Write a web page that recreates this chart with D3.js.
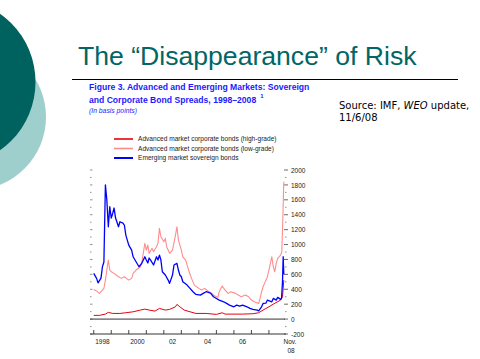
<!DOCTYPE html>
<html><head><meta charset="utf-8">
<script src="https://cdn.jsdelivr.net/npm/d3@7"></script>
<style>body{margin:0;background:#fff;}svg{display:block;}</style>
</head><body>
<script>
// ---- data ----
const seriesNames = ["Advanced market corporate bonds (high-grade)","Advanced market corporate bonds (low-grade)","Emerging market sovereign bonds"];
const seriesColors = ["#e8000b","#ff8c8c","#0000ff"];
const highGrade = [["1998-01",50],["1998-05",50],["1998-09",67],["1998-11",90],["1999-02",76],["1999-07",76],["1999-11",85],["2000-04",98],["2000-09",121],["2000-12",134],["2001-03",121],["2001-07",107],["2001-10",143],["2002-02",121],["2002-05",130],["2002-09",165],["2002-10",197],["2002-12",165],["2003-03",121],["2003-07",98],["2003-11",76],["2004-06",76],["2005-01",63],["2005-05",85],["2005-07",67],["2006-01",67],["2006-07",67],["2007-02",72],["2007-06",85],["2007-09",121],["2008-01",165],["2008-04",201],["2008-09",255],["2008-10-10",300],["2008-11-06",523]];
const lowGrade = [["1998-01",398],["1998-03",376],["1998-05",345],["1998-06",367],["1998-08",412],["1998-09",523],["1998-10",658],["1998-11",792],["1998-12",658],["1999-01",635],["1999-03",613],["1999-06",568],["1999-08",546],["1999-10",568],["2000-01",523],["2000-03",546],["2000-04",613],["2000-06",658],["2000-09",702],["2000-10",769],["2000-12",1016],["2001-01",926],["2001-02",993],["2001-03",882],["2001-05",949],["2001-06",903],["2001-08",970],["2001-09",1016],["2001-10",1217],["2001-11",1105],["2002-01",1038],["2002-02",1083],["2002-03",970],["2002-05",882],["2002-07",926],["2002-09",1127],["2002-10",1239],["2002-11",1060],["2003-01",926],["2003-02",836],["2003-04",792],["2003-06",658],["2003-08",546],["2003-10",456],["2004-01",412],["2004-03",389],["2004-05",412],["2004-07",380],["2004-10",345],["2004-12",309],["2005-02",291],["2005-03",367],["2005-05",443],["2005-07",389],["2005-09",345],["2005-11",367],["2006-02",345],["2006-04",322],["2006-06",300],["2006-09",322],["2006-11",300],["2007-01",255],["2007-03",232],["2007-06",210],["2007-07",277],["2007-08",367],["2007-09",434],["2007-10",479],["2007-12",568],["2008-01",658],["2008-03",836],["2008-04",702],["2008-05",635],["2008-06",747],["2008-07",815],["2008-09",859],["2008-09-25",900],["2008-10-15",1300],["2008-11-06",1843]];
const emerging = [["1998-01",613],["1998-03",546],["1998-04",487],["1998-06",550],["1998-07",702],["1998-08",765],["1998-09",1800],["1998-10",1597],["1998-11",1239],["1998-12",1507],["1999-01",1355],["1999-02",1420],["1999-03",1490],["1999-04",1355],["1999-06",1239],["1999-07",1306],["1999-09",1288],["1999-10",1262],["1999-11",1127],["2000-01",993],["2000-03",926],["2000-04",836],["2000-06",769],["2000-08",702],["2000-10",752],["2000-12",836],["2001-01",792],["2001-02",752],["2001-03",819],["2001-04",792],["2001-06",725],["2001-08",836],["2001-09",792],["2001-10",859],["2001-11",792],["2001-12",635],["2002-02",591],["2002-04",523],["2002-05",479],["2002-07",591],["2002-08",725],["2002-10",747],["2002-11",658],["2002-12",591],["2003-01",568],["2003-02",501],["2003-05",456],["2003-07",412],["2003-09",367],["2003-11",331],["2004-02",322],["2004-04",345],["2004-06",367],["2004-09",349],["2004-11",300],["2005-01",277],["2005-03",255],["2005-06",232],["2005-08",210],["2005-10",188],["2006-01",165],["2006-03",188],["2006-05",174],["2006-07",188],["2006-10",165],["2006-12",143],["2007-02",130],["2007-05",121],["2007-06",111],["2007-08",165],["2007-09",210],["2007-11",215],["2007-12",255],["2008-03",232],["2008-04",277],["2008-06",255],["2008-07",291],["2008-09-01",264],["2008-09-20",282],["2008-10-10",500],["2008-10-24",836],["2008-11-06",600]];
const yTickValues = [-200,0,200,400,600,800,1000,1200,1400,1600,1800,2000];
const yTickLabels = ["-200","0","200","400","600","800","1000","1200","1400","1600","1800","2000"];
const xLabelDates = ["1998-07","2000-07","2002-07","2004-07","2006-07"];
const xLabels = ["1998","2000","02","04","06"];
const xYearTicks = [1998,1999,2000,2001,2002,2003,2004,2005,2006,2007,2008];

// ---- render ----
const W = 480, H = 359;
const svg = d3.select("body").append("svg").attr("width", W).attr("height", H);
svg.append("rect").attr("width", W).attr("height", H).attr("fill", "#fff");

// decorative circles
svg.append("circle").attr("cx", -27).attr("cy", 117).attr("r", 73).attr("fill", "#9ecfcc");
svg.append("circle").attr("cx", -48).attr("cy", 82).attr("r", 83.5).attr("fill", "#00625f");

// slide title
svg.append("text").attr("x", 78).attr("y", 65).attr("font-family", "Liberation Sans, Arial, sans-serif")
  .attr("font-size", 26.6).attr("fill", "#006666").text("The \u201cDisappearance\u201d of Risk");
svg.append("line").attr("x1", 72).attr("x2", 458).attr("y1", 79.5).attr("y2", 79.5).attr("stroke", "#000").attr("stroke-width", 1);

// figure title
const ft = svg.append("g").attr("font-family", "Liberation Sans, Arial, sans-serif").attr("fill", "#1a1aff");
ft.append("text").attr("x", 89).attr("y", 90).attr("font-size", 8.6).attr("font-weight", "bold")
  .text("Figure 3. Advanced and Emerging Markets: Sovereign");
const t2 = ft.append("text").attr("x", 89).attr("y", 102.5).attr("font-size", 8.6).attr("font-weight", "bold")
  .text("and Corporate Bond Spreads, 1998\u20132008");
const t2end = 89 + t2.node().getComputedTextLength();
ft.append("text").attr("x", t2end + 4).attr("y", 97.5).attr("font-size", 6).attr("font-weight", "bold").text("1");
ft.append("text").attr("x", 89).attr("y", 113).attr("font-size", 6.8).attr("font-style", "italic").text("(In basis points)");

// source
const src = svg.append("g").attr("font-family", "DejaVu Sans, sans-serif").attr("font-size", 10).attr("fill", "#000");
const s1 = src.append("text").attr("x", 339).attr("y", 109);
s1.append("tspan").text("Source: IMF, ");
s1.append("tspan").attr("font-style", "italic").text("WEO");
s1.append("tspan").text(" update,");
src.append("text").attr("x", 339).attr("y", 121).text("11/6/08");

// scales
const parse = s => (s.length > 7 ? d3.timeParse("%Y-%m-%d")(s) : d3.timeParse("%Y-%m")(s));
const x = d3.scaleTime().domain([new Date(1997, 9, 15), new Date(2008, 11, 1)]).range([90, 285]);
const y = d3.scaleLinear().domain([-200, 2000]).range([334, 170]);

// legend
const lg = svg.append("g").attr("font-family", "Liberation Sans, Arial, sans-serif").attr("font-size", 6.6).attr("fill", "#222");
seriesNames.forEach((n, i) => {
  const yy = 139 + i * 9.5;
  lg.append("line").attr("x1", 114).attr("x2", 133).attr("y1", yy).attr("y2", yy)
    .attr("stroke", seriesColors[i]).attr("stroke-width", i === 2 ? 2 : 1.6);
  lg.append("text").attr("x", 138).attr("y", yy + 2.3).text(n);
});

// left ticks (unlabelled)
const minor = d3.range(-200, 2001, 100);
svg.append("g").selectAll("line").data(minor).join("line")
  .attr("x1", 90).attr("x2", d => d % 200 === 0 ? 92.5 : 91.5)
  .attr("y1", d => y(d)).attr("y2", d => y(d)).attr("stroke", "#777").attr("stroke-width", 0.8);

// right axis
const ra = svg.append("g").attr("transform", "translate(285,0)");
ra.call(d3.axisRight(y).tickValues(yTickValues).tickSize(0).tickFormat((d, i) => yTickLabels[i]))
  .call(g => g.select(".domain").remove())
  .call(g => g.selectAll("text").attr("x", 6).attr("font-family", "Liberation Sans, Arial, sans-serif").attr("font-size", 6.5).attr("fill", "#222"));
ra.selectAll(".majt").data(yTickValues).join("line").attr("class", "majt")
  .attr("x1", -1).attr("x2", 3).attr("y1", d => y(d)).attr("y2", d => y(d)).attr("stroke", "#444").attr("stroke-width", 0.8);
ra.selectAll(".mint").data(minor.filter(d => d % 200 !== 0)).join("line").attr("class", "mint")
  .attr("x1", 0).attr("x2", 1.5).attr("y1", d => y(d)).attr("y2", d => y(d)).attr("stroke", "#777").attr("stroke-width", 0.8);

// zero line and bottom axis
svg.append("line").attr("x1", 90).attr("x2", 285).attr("y1", y(0)).attr("y2", y(0)).attr("stroke", "#333").attr("stroke-width", 1);
svg.append("line").attr("x1", 90).attr("x2", 286).attr("y1", y(-200)).attr("y2", y(-200)).attr("stroke", "#333").attr("stroke-width", 1);
svg.append("g").selectAll("line").data(xYearTicks).join("line")
  .attr("x1", d => x(new Date(d, 0, 1))).attr("x2", d => x(new Date(d, 0, 1)))
  .attr("y1", y(-200) - 4).attr("y2", y(-200)).attr("stroke", "#333").attr("stroke-width", 0.9);
const xl = svg.append("g").attr("font-family", "Liberation Sans, Arial, sans-serif").attr("font-size", 6.5).attr("fill", "#222").attr("text-anchor", "middle");
xLabelDates.forEach((d, i) => xl.append("text").attr("x", x(parse(d))).attr("y", 344).text(xLabels[i]));
xl.append("text").attr("x", 290).attr("y", 344).text("Nov.");
xl.append("text").attr("x", 291).attr("y", 353).text("08");

// series lines
const line = d3.line().x(d => x(parse(d[0]))).y(d => y(d[1]));
const plot = svg.append("g").attr("fill", "none").attr("stroke-linejoin", "round");
plot.append("path").datum(highGrade).attr("d", line).attr("stroke", seriesColors[0]).attr("stroke-width", 1);
plot.append("path").datum(lowGrade).attr("d", line).attr("stroke", seriesColors[1]).attr("stroke-width", 1.1);
plot.append("path").datum(emerging).attr("d", line).attr("stroke", seriesColors[2]).attr("stroke-width", 1.3);
</script>
</body></html>
